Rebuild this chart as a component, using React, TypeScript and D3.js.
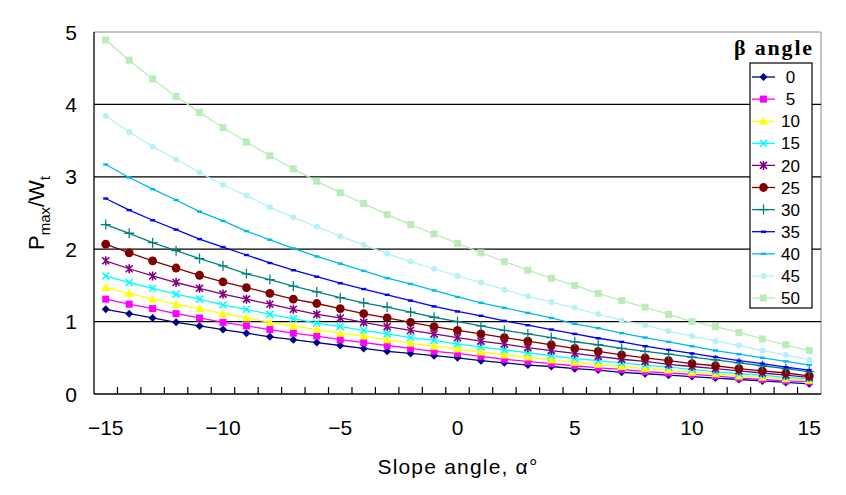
import React from "react";
import * as d3 from "d3";

const alphaCats: number[] = d3.range(-15, 16);
const xTickLabels: number[] = [-15, -10, -5, 0, 5, 10, 15];
const yTicks: number[] = [0, 1, 2, 3, 4, 5];
const betaNames: string[] = ["0", "5", "10", "15", "20", "25", "30", "35", "40", "45", "50"];

const s0 = [1.17, 1.11, 1.05, 0.99, 0.94, 0.89, 0.84, 0.79, 0.75, 0.71, 0.67, 0.63, 0.59, 0.56, 0.53, 0.50, 0.46, 0.43, 0.40, 0.38, 0.35, 0.33, 0.30, 0.28, 0.26, 0.24, 0.22, 0.20, 0.18, 0.16, 0.14];
const s5 = [1.31, 1.24, 1.18, 1.11, 1.05, 0.99, 0.94, 0.89, 0.84, 0.80, 0.75, 0.71, 0.67, 0.63, 0.59, 0.56, 0.52, 0.48, 0.45, 0.42, 0.39, 0.36, 0.34, 0.31, 0.29, 0.27, 0.25, 0.22, 0.20, 0.18, 0.17];
const s10 = [1.47, 1.39, 1.31, 1.24, 1.18, 1.11, 1.05, 0.99, 0.94, 0.89, 0.84, 0.80, 0.75, 0.70, 0.66, 0.62, 0.58, 0.54, 0.51, 0.47, 0.44, 0.41, 0.38, 0.35, 0.33, 0.30, 0.28, 0.25, 0.23, 0.21, 0.19];
const s15 = [1.63, 1.54, 1.46, 1.38, 1.31, 1.23, 1.17, 1.10, 1.04, 0.98, 0.93, 0.88, 0.83, 0.78, 0.74, 0.69, 0.65, 0.61, 0.57, 0.53, 0.49, 0.46, 0.43, 0.40, 0.37, 0.34, 0.31, 0.28, 0.26, 0.23, 0.21];
const s20 = [1.84, 1.73, 1.63, 1.54, 1.46, 1.38, 1.31, 1.24, 1.17, 1.10, 1.05, 0.99, 0.93, 0.88, 0.83, 0.78, 0.73, 0.69, 0.64, 0.60, 0.56, 0.52, 0.48, 0.45, 0.41, 0.38, 0.35, 0.32, 0.29, 0.26, 0.23];
const s25 = [2.07, 1.95, 1.84, 1.74, 1.64, 1.55, 1.47, 1.39, 1.31, 1.25, 1.18, 1.11, 1.05, 0.99, 0.93, 0.88, 0.83, 0.78, 0.73, 0.68, 0.63, 0.59, 0.54, 0.50, 0.46, 0.42, 0.39, 0.35, 0.32, 0.29, 0.25];
const s30 = [2.34, 2.22, 2.09, 1.98, 1.87, 1.77, 1.66, 1.58, 1.49, 1.41, 1.33, 1.26, 1.20, 1.13, 1.06, 1.00, 0.94, 0.88, 0.83, 0.78, 0.72, 0.68, 0.63, 0.59, 0.55, 0.51, 0.47, 0.43, 0.39, 0.35, 0.31];
const s35 = [2.70, 2.54, 2.40, 2.27, 2.14, 2.03, 1.92, 1.81, 1.71, 1.62, 1.53, 1.45, 1.37, 1.29, 1.21, 1.14, 1.08, 1.01, 0.95, 0.89, 0.83, 0.77, 0.72, 0.66, 0.61, 0.56, 0.51, 0.46, 0.42, 0.37, 0.33];
const s40 = [3.17, 2.99, 2.83, 2.68, 2.52, 2.39, 2.25, 2.13, 2.01, 1.90, 1.80, 1.70, 1.60, 1.52, 1.43, 1.34, 1.26, 1.19, 1.12, 1.05, 0.97, 0.91, 0.84, 0.78, 0.72, 0.66, 0.60, 0.55, 0.50, 0.45, 0.40];
const s45 = [3.84, 3.62, 3.42, 3.24, 3.06, 2.89, 2.74, 2.58, 2.44, 2.31, 2.18, 2.06, 1.94, 1.83, 1.73, 1.63, 1.54, 1.44, 1.35, 1.27, 1.19, 1.10, 1.02, 0.95, 0.87, 0.80, 0.73, 0.67, 0.60, 0.54, 0.47];
const s50 = [4.89, 4.61, 4.35, 4.11, 3.89, 3.68, 3.48, 3.29, 3.11, 2.94, 2.78, 2.63, 2.48, 2.34, 2.21, 2.08, 1.95, 1.83, 1.71, 1.60, 1.50, 1.39, 1.29, 1.20, 1.10, 1.00, 0.93, 0.85, 0.76, 0.68, 0.60];

const seriesValues: number[][] = [s0, s5, s10, s15, s20, s25, s30, s35, s40, s45, s50];
const seriesColors: string[] = ["#000080", "#ff00ff", "#ffff00", "#00ffff", "#800080", "#800000", "#008080", "#0000ff", "#00b8ec", "#b4f2f8", "#b8ecb8"];
const seriesMarkers: string[] = ["diamond", "square", "triangle", "x", "star", "circle", "plus", "dash", "dash", "dot", "square"];

const W = 846, H = 495;
const left = 94, right = 821, top = 32, bottom = 394;
const FONT = "'Liberation Sans', Arial, sans-serif";

function Marker({ type, x, y, color }: { type: string; x: number; y: number; color: string }) {
  switch (type) {
    case "diamond":
      return <path d={`M${x},${y - 4}L${x + 4},${y}L${x},${y + 4}L${x - 4},${y}Z`} fill={color} />;
    case "square":
      return <rect x={x - 3.5} y={y - 3.5} width={7} height={7} fill={color} />;
    case "triangle":
      return <path d={`M${x},${y - 4.5}L${x + 4.5},${y + 3.5}L${x - 4.5},${y + 3.5}Z`} fill={color} />;
    case "x":
      return <path d={`M${x - 3.5},${y - 3.5}L${x + 3.5},${y + 3.5}M${x - 3.5},${y + 3.5}L${x + 3.5},${y - 3.5}`} stroke={color} strokeWidth={1.6} />;
    case "star":
      return <path d={`M${x - 3.5},${y - 3.5}L${x + 3.5},${y + 3.5}M${x - 3.5},${y + 3.5}L${x + 3.5},${y - 3.5}M${x},${y - 4.5}L${x},${y + 4.5}`} stroke={color} strokeWidth={1.6} />;
    case "circle":
      return <circle cx={x} cy={y} r={4.4} fill={color} />;
    case "plus":
      return <path d={`M${x - 5},${y}L${x + 5},${y}M${x},${y - 5}L${x},${y + 5}`} stroke={color} strokeWidth={1.3} />;
    case "dash":
      return <rect x={x - 2.5} y={y - 1.2} width={5} height={2.4} fill={color} />;
    case "dot":
      return <circle cx={x} cy={y} r={3} fill={color} />;
    default:
      return null;
  }
}

export default function App() {
  const x = d3.scaleBand<number>().domain(alphaCats).range([left, right]).padding(0);
  const y = d3.scaleLinear().domain([0, 5]).range([bottom, top]);
  const cx = (a: number) => (x(a) as number) + x.bandwidth() / 2;
  const line = d3.line<[number, number]>().x((d) => cx(d[0])).y((d) => y(d[1]));

  const boundaries = alphaCats.slice(1).map((a) => x(a) as number);

  const legX = 750, legY = 63, legW = 62, legH = 245;
  const legStep = 22.1;

  return (
    <svg width={W} height={H} style={{ position: "absolute", left: 0, top: 0, background: "#fff" }} fontFamily={FONT}>
      <rect x={0} y={0} width={W} height={H} fill="#fff" />
      <line x1={left} x2={right} y1={top} y2={top} stroke="#888" strokeWidth={1} />
      <line x1={right} x2={right} y1={top} y2={bottom} stroke="#888" strokeWidth={1} />
      {yTicks.filter((t) => t > 0 && t < 5).map((t) => (
        <line key={t} x1={left} x2={right} y1={y(t)} y2={y(t)} stroke="#000" strokeWidth={1.2} />
      ))}
      <line x1={left} x2={left} y1={top} y2={bottom} stroke="#000" strokeWidth={1.3} />
      <line x1={left} x2={right} y1={bottom} y2={bottom} stroke="#000" strokeWidth={1.3} />
      {boundaries.map((bx, i) => (
        <line key={i} x1={bx} x2={bx} y1={bottom} y2={bottom - 7} stroke="#000" strokeWidth={1.2} />
      ))}
      {yTicks.map((t) => (
        <text key={t} x={77} y={y(t)} dy="0.36em" textAnchor="end" fontSize={21} fill="#000">{t}</text>
      ))}
      {xTickLabels.map((t) => (
        <text key={t} x={cx(t)} y={435} textAnchor="middle" fontSize={21} fill="#000">{t < 0 ? "\u2212" + Math.abs(t) : String(t)}</text>
      ))}
      <text x={458} y={474} textAnchor="middle" fontSize={21} letterSpacing={1.2} fill="#000">Slope angle, α°</text>
      <text transform={`translate(44,${(top + bottom) / 2}) rotate(-90)`} textAnchor="middle" fontSize={22} fill="#000">
        P<tspan fontSize={15} dy={6}>max</tspan><tspan dy={-6}>/W</tspan><tspan fontSize={15} dy={6}>t</tspan>
      </text>
      {seriesValues.map((vals, si) => {
        const pts: [number, number][] = alphaCats.map((a, i) => [a, vals[i]]);
        return (
          <g key={si}>
            <path d={line(pts) || ""} fill="none" stroke={seriesColors[si]} strokeWidth={1.3} />
            {pts.map((p, i) => (
              <Marker key={i} type={seriesMarkers[si]} x={cx(p[0])} y={y(p[1])} color={seriesColors[si]} />
            ))}
          </g>
        );
      })}
      <text x={774} y={55} textAnchor="middle" fontSize={22} fontWeight="bold" fontFamily="'Liberation Serif', 'DejaVu Serif', serif" letterSpacing={1.8}>β angle</text>
      <rect x={legX} y={legY} width={legW} height={legH} fill="#fff" stroke="#000" strokeWidth={1.2} />
      {betaNames.map((n, i) => {
        const ly = legY + 14 + legStep * i;
        return (
          <g key={n}>
            <line x1={752} x2={775} y1={ly} y2={ly} stroke={seriesColors[i]} strokeWidth={1.3} />
            <Marker type={seriesMarkers[i]} x={763.5} y={ly} color={seriesColors[i]} />
            <text x={790.5} y={ly} dy="0.36em" textAnchor="middle" fontSize={17} fill="#000">{n}</text>
          </g>
        );
      })}
    </svg>
  );
}
